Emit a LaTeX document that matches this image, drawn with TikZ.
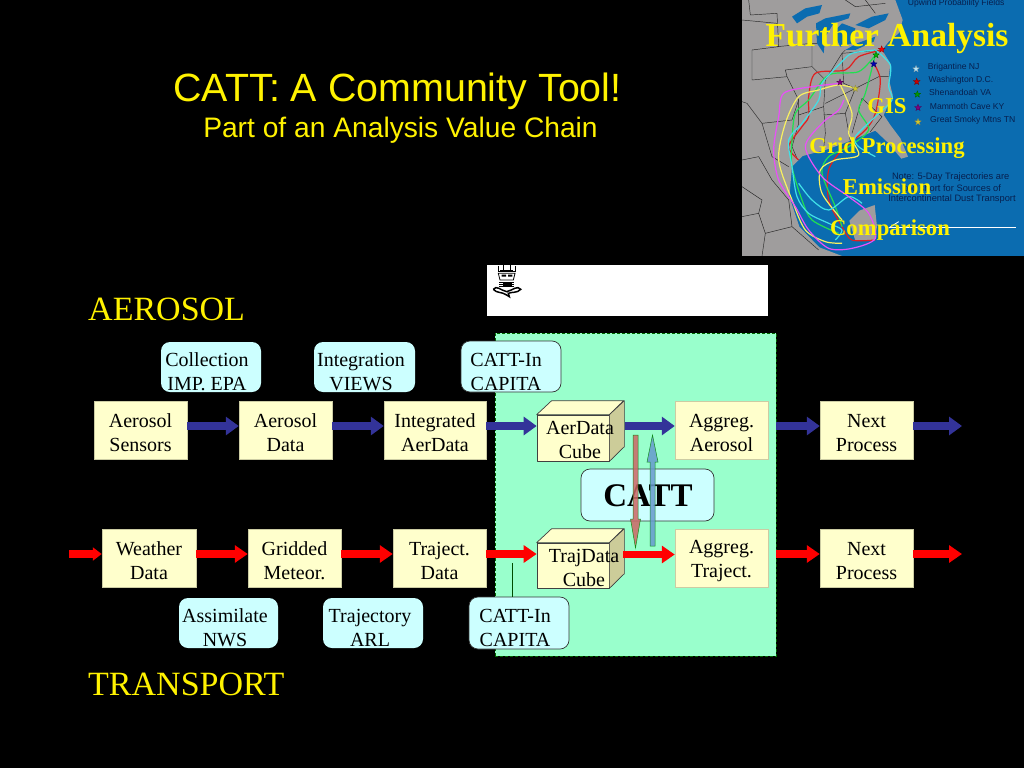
\documentclass[tikz,border=0pt]{standalone}
\usepackage{fontspec}
\setmainfont{Liberation Serif}
\newfontfamily\arialf{Liberation Sans}
\usetikzlibrary{arrows.meta,shapes.geometric}
\newcommand{\twolines}[2]{\rule{0pt}{19pt}#1\\#2}
\definecolor{boxfill}{HTML}{FFFFCC}
\definecolor{calloutfill}{HTML}{CCFFFF}
\definecolor{panelfill}{HTML}{99FFCC}
\definecolor{navyarrow}{HTML}{333399}
\definecolor{mapblue}{HTML}{0B6CB0}
\definecolor{mapland}{HTML}{9F9D9D}
\definecolor{maptext}{HTML}{07204F}
\definecolor{cubeside}{HTML}{CCCC99}
\definecolor{tcyan}{HTML}{40E0E8}
\definecolor{tgreen}{HTML}{20E050}
\definecolor{tred}{HTML}{E02020}
\definecolor{tmag}{HTML}{E850F8}
\definecolor{tyel}{HTML}{F8F060}
\tikzset{
  x=1pt,y=-1pt,
  boxnode/.style={draw=boxfill!80!black,line width=.5pt,fill=boxfill,minimum width=#1,minimum height=58pt,inner sep=0pt,align=center,font=\fontsize{20}{24}\selectfont,text=black},
  boxnode/.default=93pt,
  callout/.style={rounded corners=9pt,fill=calloutfill,minimum width=100pt,minimum height=50pt,inner sep=0pt},
  calltext/.style={align=center,font=\fontsize{20}{24}\selectfont,text=black,inner sep=0pt},
  bluearrow/.style={navyarrow,line width=8pt,-{Triangle[length=13pt,width=18pt]}},
  redarrow/.style={red,line width=7.5pt,-{Triangle[length=13pt,width=17pt]}},
  cubeface/.style={draw=black!75,line width=.7pt,line join=round},
  cubetext/.style={align=center,font=\fontsize{20}{24}\selectfont,text=black,inner sep=0pt},
  heading/.style={text=yellow,anchor=west,inner sep=0pt,font=\fontsize{34}{38}\selectfont},
  overlay/.style={text=yellow,inner sep=0pt,font=\fontsize{22.7}{24}\selectfont\bfseries},
  legend/.style={text=maptext,anchor=west,inner sep=0pt,font=\arialf\fontsize{8.6}{10}\selectfont},
  noteline/.style={text=maptext,inner sep=0pt,font=\arialf\fontsize{9.3}{11}\selectfont},
  star5/.style={star,star points=5,star point ratio=2.4,minimum size=7pt,inner sep=0pt,draw=#1!60!black,fill=#1,line width=.3pt},
  traj/.style={line width=1.2pt,line join=round},
  stateline/.style={draw=black!85,line width=.45pt},
}
\begin{document}
\begin{tikzpicture}
\useasboundingbox (0,0) rectangle (1024,768);
\fill[black] (0,0) rectangle (1024,768);

% ---------- map ----------
\begin{scope}[shift={(742,0)},x=0.33333pt,y=-0.33333pt]
\clip (0,0) rectangle (846,768);
\fill[mapblue] (0,0) rectangle (846,768);
\fill[mapland] (0,0) -- (460,0) -- (482,60) -- (470,100) -- (440,125) -- (420,150) -- (445,190) -- (440,235) -- (452,285) -- (425,345) -- (445,375) -- (475,415) -- (498,470) -- (478,476) -- (440,430) -- (400,392) -- (350,412) -- (300,432) -- (250,450) -- (182,468) -- (150,500) -- (142,590) -- (172,680) -- (232,742) -- (300,768) -- (0,768) -- cycle;
\fill[mapland] (322,662) -- (352,632) -- (398,615) -- (405,680) -- (398,722) -- (340,722) -- cycle;
% great lakes
\fill[mapblue] (150,50) -- (190,25) -- (240,15) -- (232,40) -- (195,50) -- (165,70) -- cycle;
\fill[mapblue] (222,70) -- (250,55) -- (325,40) -- (320,55) -- (275,70) -- (250,110) -- (245,160) -- (225,130) -- cycle;
\fill[mapblue] (275,95) -- (300,70) -- (340,85) -- (330,130) -- (295,140) -- (285,120) -- cycle;
\fill[mapblue] (310,150) -- (345,130) -- (400,110) -- (395,125) -- (340,150) -- cycle;
\fill[mapblue] (340,75) -- (390,50) -- (440,40) -- (430,60) -- (380,85) -- cycle;
% boundaries
\draw[stateline] (20,0) -- (25,45) -- (105,40) -- (110,140) -- (30,150) -- (30,240) -- (135,230) -- (170,300) -- (150,360) -- (60,370) -- (15,310) -- (0,305);
\draw[stateline] (105,140) -- (210,130) -- (225,130);
\draw[stateline] (135,230) -- (130,210) -- (210,200) -- (210,130);
\draw[stateline] (210,200) -- (250,240) -- (245,320) -- (250,400) -- (245,445);
\draw[stateline] (245,320) -- (170,345);
\draw[stateline] (250,240) -- (300,160) -- (310,150);
\draw[stateline] (300,160) -- (305,250) -- (340,265) -- (410,230) -- (440,230);
\draw[stateline] (340,265) -- (250,310);
\draw[stateline] (340,265) -- (310,340) -- (325,425);
\draw[stateline] (310,340) -- (245,345);
\draw[stateline] (360,295) -- (420,350) -- (385,395);
\draw[stateline] (360,295) -- (330,400);
\draw[stateline] (300,160) -- (420,150);
\draw[stateline] (0,60) -- (105,70);
\draw[stateline] (170,300) -- (170,370) -- (150,440) -- (165,475);
\draw[stateline] (60,370) -- (90,470) -- (140,500);
\draw[stateline] (0,480) -- (50,470) -- (90,540) -- (140,600) -- (150,680) -- (230,750);
\draw[stateline] (0,650) -- (50,640) -- (70,700) -- (150,680);
\draw[stateline] (0,560) -- (60,600) -- (50,640);
\draw[stateline] (70,700) -- (60,768);
\draw[stateline] (370,0) -- (400,40);
\draw[stateline] (310,0) -- (340,20) -- (430,10);
% trajectories
\draw[traj,tred] plot[smooth] coordinates {(420,150) (350,170) (310,210) (220,220) (200,290) (200,350) (180,380) (140,440) (170,480)};
\draw[traj,tred] plot[smooth] coordinates {(395,190) (415,240) (400,340) (370,390) (300,450) (260,510) (260,600) (300,680) (330,720) (400,720)};
\draw[traj,tgreen] plot[smooth] coordinates {(400,165) (350,215) (260,225) (200,300) (160,340) (150,420) (150,500) (180,600) (210,660) (290,700)};
\draw[traj,tgreen] plot[smooth] coordinates {(400,165) (370,280) (350,330) (380,390) (320,440) (260,470) (240,520) (280,620) (300,680)};
\draw[traj,tyel] plot[smooth] coordinates {(340,265) (290,255) (230,270) (170,290) (130,370) (110,480) (150,600) (190,690) (250,725) (300,730)};
\draw[traj,tyel] plot[smooth] coordinates {(295,255) (330,340) (320,400) (350,465) (280,480) (235,510) (240,580) (300,660)};
\draw[traj,tcyan] plot[smooth] coordinates {(400,150) (330,160) (295,190) (240,250) (230,300) (180,370) (140,420) (150,500) (165,590) (200,640) (260,670) (300,690) (280,720)};
\draw[traj,tcyan] plot[smooth] coordinates {(400,150) (445,195) (440,260) (450,300) (400,350) (340,410) (350,440) (400,470)};
\draw[traj,tcyan] plot[smooth] coordinates {(170,550) (210,600) (260,630) (320,590) (360,610)};
\draw[traj,tmag] plot[smooth] coordinates {(295,250) (210,260) (125,280) (110,350) (95,450) (110,540) (160,620) (200,690) (260,745) (330,745) (400,715) (380,640) (320,590) (240,530) (190,440) (240,370) (290,330) (305,300)};
% stars at sites
\node[star5=red] (s1) at (419,148) {};
\node[star5=green!70!black] (s2) at (402,165) {};
\node[star5=blue!70!black] (s3) at (395,192) {};
\node[star5=violet] (s4) at (294,247) {};
\node[star5=yellow!80!black] (s5) at (340,266) {};
% legend
\node[star5=cyan!30!white] (k1) at (522,207) {};
\node[star5=red!80!black] (k2) at (524,245) {};
\node[star5=green!60!black] (k3) at (526,283) {};
\node[star5=violet] (k4) at (528,323) {};
\node[star5=yellow!80!black] (k5) at (528,366) {};
\node[legend] (t0) at (497,10) {Upwind Probability Fields};
\node[legend] (t1) at (557,201) {Brigantine NJ};
\node[legend] (t2) at (559,241) {Washington D.C.};
\node[legend] (t3) at (561,278) {Shenandoah VA};
\node[legend] (t4) at (563,318) {Mammoth Cave KY};
\node[legend] (t5) at (564,361) {Great Smoky Mtns TN};
\node[noteline] (n1) at (626,530) {Note: 5-Day Trajectories are};
\node[noteline] (n2) at (632,564) {too short for Sources of};
\node[noteline] (n3) at (630,598) {Intercontinental Dust Transport};
\coordinate (wl) at (440,684);
\coordinate (wr) at (822,684);
\draw[white,line width=1pt] (wl) -- (wr);
\draw[white,line width=.8pt] (440,684) -- (470,665);
\end{scope}
\node[text=yellow,inner sep=0pt,font=\fontsize{33.5}{36}\selectfont\bfseries] (fa) at (887,38) {Further Analysis};
\node[overlay] (gis) at (887,106) {GIS};
\node[overlay] (grid) at (887,148) {Grid Processing};
\node[overlay] (emis) at (887,187) {Emission};
\node[overlay] (comp) at (890,230) {Comparison};

% ---------- titles ----------
\node[text=yellow,inner sep=0pt,font=\arialf\fontsize{39.4}{42}\selectfont] (title) at (397.5,91) {CATT: A Community Tool!};
\node[text=yellow,inner sep=0pt,font=\arialf\fontsize{28.2}{30}\selectfont] (subtitle) at (400.5,130) {Part of an Analysis Value Chain};
\node[heading] (aer) at (88,309) {AEROSOL};
\node[heading] (tra) at (88,684) {TRANSPORT};

% ---------- white strip with emblem ----------
\fill[white] (487,265) rectangle (768,316);
\begin{scope}[shift={(480,260)},x=0.33333pt,y=-0.33333pt,black]
\draw[line width=.8pt,fill=white] (55,17) -- (55,35) -- (105,35) -- (105,17);
\draw[line width=.7pt] (70,15) -- (70,30) (90,15) -- (90,30);
\fill (60,30) rectangle (100,36);
\draw[line width=.8pt] (55,40) -- (105,40) -- (100,60) -- (60,60) -- cycle;
\fill (65,44) rectangle (78,50) (84,44) rectangle (97,50);
\draw[line width=.9pt] (58,66) -- (102,66) (58,73) -- (102,73) (58,80) -- (102,80);
\fill (68,68) rectangle (95,78);
\draw[line width=1.5pt] (40,88) .. controls (50,75) and (60,90) .. (80,95) .. controls (100,90) and (112,75) .. (122,88) .. controls (112,100) and (95,95) .. (85,100) -- (88,110) -- (78,104) .. controls (65,95) and (50,100) .. (40,88);
\end{scope}

% ---------- panel ----------
\node[draw=black!60!green,densely dashed,line width=.7pt,fill=panelfill,minimum width=281pt,minimum height=323pt,inner sep=0pt] (panel) at (635.5,494.5) {};

% ---------- callouts ----------
\node[callout,minimum width=100pt] (c1) at (211,367) {};
\node[calltext] (c1t) at ([xshift=-4pt,yshift=-5pt]c1.center) {Collection\\IMP. EPA};
\node[callout,minimum width=101pt] (c2) at (364.5,367) {};
\node[calltext] (c2t) at ([xshift=-3.5pt,yshift=-5pt]c2.center) {Integration\\VIEWS};
\node[callout,draw=black!80,line width=.7pt,minimum height=51pt] (c3) at (511,366.5) {};
\node[calltext] (c3t) at ([xshift=-5pt,yshift=-5pt]c3.center) {CATT-In\\CAPITA};
\node[callout,minimum width=99pt] (c4) at (228.5,623) {};
\node[calltext] (c4t) at ([xshift=-3.5pt,yshift=-5pt]c4.center) {Assimilate\\NWS};
\node[callout] (c5) at (373,623) {};
\node[calltext] (c5t) at ([xshift=-3pt,yshift=-5pt]c5.center) {Trajectory\\ARL};
\node[callout,draw=black!80,line width=.7pt,minimum height=52pt] (c6) at (519,623) {};
\node[calltext] (c6t) at ([xshift=-4pt,yshift=-5pt]c6.center) {CATT-In\\CAPITA};
\node[callout,draw=black!80,line width=.7pt,minimum width=133pt,minimum height=52pt] (catt) at (647.5,495) {};
\node[text=black,inner sep=0pt,font=\fontsize{33}{38}\selectfont\bfseries] (cattt) at (648,496) {CATT};

% ---------- process boxes ----------
\node[boxnode] (as) at (140.5,430) {\twolines{Aerosol}{Sensors}};
\node[boxnode] (ad) at (285.5,430) {\twolines{Aerosol}{Data}};
\node[boxnode=102pt] (ia) at (435,430) {\twolines{Integrated}{AerData}};
\node[boxnode] (aa) at (721.5,430) {\twolines{Aggreg.}{Aerosol}};
\node[boxnode] (na) at (866.5,430) {\twolines{Next}{Process}};
\node[boxnode=94pt] (wd) at (149,558) {\twolines{Weather}{Data}};
\node[boxnode] (gm) at (294.5,558) {\twolines{Gridded}{Meteor.}};
\node[boxnode] (td) at (439.5,558) {\twolines{Traject.}{Data}};
\node[boxnode] (at) at (721.5,558) {\twolines{Aggreg.}{Traject.}};
\node[boxnode] (nt) at (866.5,558) {\twolines{Next}{Process}};

% ---------- cubes ----------
\node[cubeface,fill=boxfill,minimum width=72pt,minimum height=46pt,inner sep=0pt] (ac) at (573,438) {};
\fill[boxfill,cubeface] (ac.north west) -- ++(15,-14) -- ++(72,0) -- (ac.north east) -- cycle;
\fill[cubeside,cubeface] (ac.north east) -- ++(15,-14) -- ++(0,46) -- (ac.south east) -- cycle;
\node[cubeface,fill=boxfill,minimum width=72pt,minimum height=45pt,inner sep=0pt] (tc) at (573,565.5) {};
\fill[boxfill,cubeface] (tc.north west) -- ++(15,-14) -- ++(72,0) -- (tc.north east) -- cycle;
\fill[cubeside,cubeface] (tc.north east) -- ++(15,-14) -- ++(0,45) -- (tc.south east) -- cycle;
\node[cubetext] (act) at (580,440) {AerData\\Cube};
\node[cubetext] (tct) at (584,568) {TrajData\\Cube};

% ---------- connectors ----------
\coordinate (aout) at (962,426);
\coordinate (tout) at (962,554);
\coordinate (tin) at (69,554);
\coordinate (acr) at (625,426);
\coordinate (tcr) at (623,554.5);
\foreach \a/\b in {as/ad,ad/ia,ia/ac}
  \draw[bluearrow] ([yshift=4pt]\a.east) -- (\b.west |- 0,426);
\draw[bluearrow] (acr) -- (aa.west |- acr);
\draw[bluearrow] (panel.east |- aout) -- (na.west |- aout);
\draw[bluearrow] (na.east |- aout) -- (aout);
\draw[red,line width=7.5pt,-{Triangle[length=9pt,width=13pt]}] (tin) -- (wd.west |- tin);
\foreach \a/\b in {wd/gm,gm/td,td/tc}
  \draw[redarrow] ([yshift=4pt]\a.east) -- (\b.west |- 0,554);
\draw[redarrow] (tcr) -- (at.west |- tcr);
\draw[redarrow] (panel.east |- tout) -- (nt.west |- tout);
\draw[redarrow] (nt.east |- tout) -- (tout);
\draw[black!70!green,line width=.7pt] (512,563) -- (c6.north -| 512,0);
% exchange arrows between the cube rows
\draw[fill={rgb,255:red,204;green,102;blue,102},draw=black!50!green,line width=.5pt,opacity=.85] (633,435) -- (638,435) -- (638,519) -- (640.5,519) -- (635.5,548) -- (630.5,519) -- (633,519) -- cycle;
\draw[fill={rgb,255:red,102;green,153;blue,204},draw=black!50!green,line width=.5pt,opacity=.85] (650,546) -- (655,546) -- (655,462) -- (658,462) -- (652.5,435) -- (647,462) -- (650,462) -- cycle;
\end{tikzpicture}
\end{document}
